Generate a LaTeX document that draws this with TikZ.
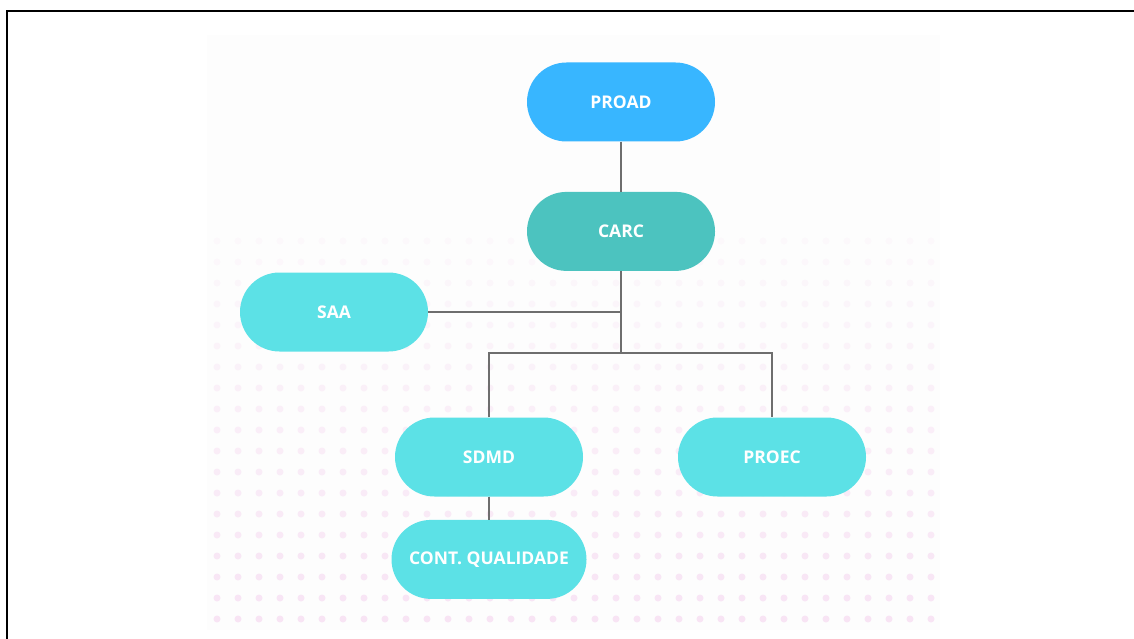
\documentclass[tikz,border=0pt]{standalone}
\usepackage{fontspec}
\setmainfont{Open Sans}
\usepackage{tikz}
\usetikzlibrary{positioning}
\definecolor{proadblue}{HTML}{38B6FF}
\definecolor{carcteal}{HTML}{4CC3BF}
\definecolor{unitcyan}{HTML}{5CE1E6}
\definecolor{linegray}{HTML}{6E6E6E}
\definecolor{dotpink}{HTML}{F2C4EA}
\definecolor{panelgray}{HTML}{FDFDFD}

\begin{document}
\begin{tikzpicture}[x=1pt,y=-1pt,
  unit/.style={fill=unitcyan,rounded corners=39.5pt,minimum width=188pt,minimum height=79pt,
    inner xsep=14pt,inner ysep=0pt,text=white,font=\fontsize{17.5}{19}\selectfont\bfseries},
  link/.style={draw=linegray,line width=2.4pt}
]
\useasboundingbox (0,0) rectangle (1134,639);
% frame and dotted panel
\fill[panelgray] (207,35) rectangle (940,630);
\foreach \r in {0,...,18}{
  \pgfmathsetmacro{\op}{0.07+0.02*\r}
  \foreach \c in {0,...,34}
    \fill[dotpink,opacity=\op] (217+21*\c,241+21*\r) circle (3.5pt);
}
\draw[line width=2.5pt] (7,639) -- (7,11) -- (1134,11);

% units
\node[unit,fill=proadblue] (proad) at (621,102) {PROAD};
\node[unit,fill=carcteal,below=50pt of proad] (carc) {CARC};
\node[unit] (saa) at (334,312) {SAA};
\node[unit] (sdmd) at (489,457) {SDMD};
\node[unit] (proec) at (772,457) {PROEC};
\node[unit,minimum width=195pt,below=23pt of sdmd] (cont) {CONT. QUALIDADE};

% connectors
\coordinate (split) at (621,353);
\draw[link] (proad) -- (carc);
\draw[link] (carc) -- (split);
\draw[link] (saa) -- (saa.east -| split);
\draw[link] (sdmd) |- (split) -| (proec);
\draw[link] (sdmd) -- (cont);
\end{tikzpicture}
\end{document}
